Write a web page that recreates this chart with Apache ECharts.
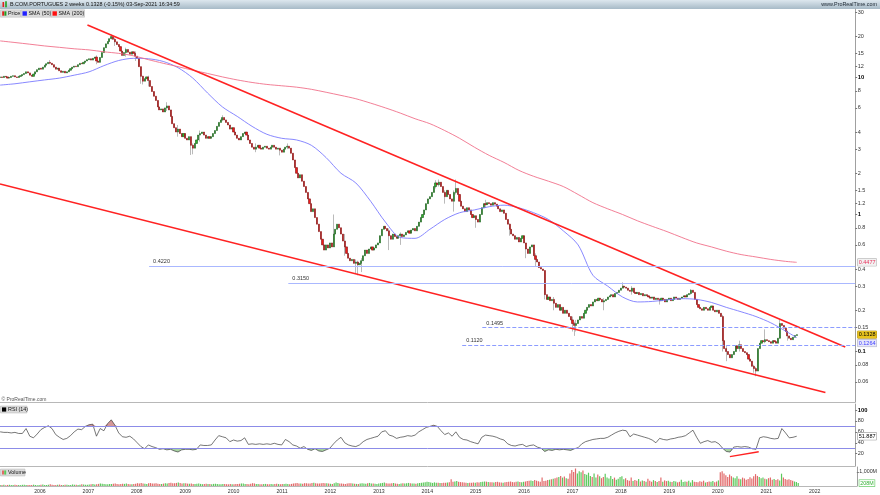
<!DOCTYPE html>
<html><head><meta charset="utf-8">
<script src="https://cdn.jsdelivr.net/npm/echarts@6/dist/echarts.min.js"></script>
<style>html,body{margin:0;padding:0;background:#fff}#c{width:880px;height:495px}</style>
</head><body><div id="c"></div>
<script>
// ---------------- DATA ----------------
const FIRST_CANDLE = Date.UTC(2005, 2, 7);   // 2-week candles
const STEP_DAYS = 14;
const firstOpen = 10.0;
const closes = [
 10.1,10.0,10.2,10.1,9.9,10.0,10.2,10.3,10.1,10.0,10.2,10.3,10.5,10.7,11.0,10.8,10.4,
 10.2,10.6,11.0,11.4,11.7,11.5,11.9,12.3,12.6,12.9,12.7,
 12.4,11.9,11.5,11.7,11.2,10.9,11.1,10.8,11.0,11.3,
 11.6,11.9,12.1,12.0,12.4,12.7,12.6,12.9,13.2,13.5,13.7,13.4,13.8,14.1,13.2,12.9,14.0,
 15.2,16.5,17.6,18.3,19.2,19.9,19.0,18.2,
 17.4,16.8,15.6,14.5,15.2,16.0,15.3,14.8,15.4,15.0,14.3,13.8,
 12.0,10.2,9.4,9.8,10.1,9.5,
 8.6,7.9,7.3,6.8,6.1,5.8,5.9,5.6,
 6.0,6.2,5.8,5.2,4.6,4.3,4.0,4.2,3.9,
 3.7,3.9,3.6,3.5,3.7,3.2,3.05,3.3,
 3.5,3.8,3.9,4.0,3.8,3.6,3.7,3.6,3.7,3.9,
 4.1,4.4,4.7,4.9,5.1,4.9,
 4.7,4.5,4.2,4.3,4.0,3.8,3.6,3.5,3.7,3.9,4.0,3.8,3.5,3.3,3.1,3.0,
 3.1,3.2,3.05,3.0,3.1,3.15,3.05,3.0,3.1,3.2,3.1,3.0,3.05,2.95,2.85,3.0,3.1,3.15,3.05,
 2.8,2.5,2.2,2.0,1.85,1.95,1.75,1.6,1.45,1.3,1.2,1.05,1.1,0.95,0.85,0.75,0.66,0.6,0.55,0.6,0.57,
 0.62,0.58,0.72,0.78,0.85,0.80,
 0.72,0.64,0.58,0.52,0.48,
 0.46,0.47,0.44,0.45,0.43,0.44,0.46,
 0.50,0.55,0.52,0.56,
 0.58,0.55,0.57,0.60,0.62,
 0.70,0.78,0.82,0.79,
 0.76,0.70,0.66,0.72,0.69,
 0.67,0.70,0.72,0.69,0.71,0.74,
 0.76,0.73,0.77,0.79,0.76,
 0.82,0.88,0.95,1.0,1.08,
 1.2,1.3,1.35,1.45,
 1.6,1.7,1.65,1.72,1.6,
 1.45,1.35,1.5,1.4,1.3,
 1.25,1.45,1.55,1.4,
 1.25,1.15,1.1,1.05,1.12,1.08,
 1.0,0.95,0.98,0.92,0.88,
 1.0,1.12,1.2,1.18,1.22,
 1.2,1.17,1.22,1.19,1.15,
 1.1,1.05,1.08,1.02,
 0.92,0.85,0.78,
 0.72,0.70,0.66,0.68,0.63,0.67,0.70,0.62,
 0.56,0.52,0.58,0.60,0.50,0.47,0.45,
 0.41,0.40,0.39,
 0.26,0.24,0.25,0.235,0.24,0.225,
 0.21,0.22,0.20,0.21,0.19,0.20,0.19,
 0.18,0.17,0.16,0.155,0.16,
 0.17,0.18,0.175,0.19,
 0.20,0.21,0.22,0.215,
 0.23,0.24,0.235,0.245,0.24,
 0.23,0.235,0.24,
 0.25,0.255,0.26,0.25,0.265,0.27,
 0.28,0.29,0.30,0.295,0.29,
 0.28,0.275,0.29,0.27,0.265,0.27,
 0.26,0.265,0.255,0.26,0.255,
 0.25,0.245,0.25,0.24,0.245,
 0.24,0.235,0.245,0.24,0.23,0.24,
 0.245,0.235,0.24,0.25,0.245,0.24,0.245,
 0.25,0.255,0.25,0.26,0.265,
 0.28,0.27,
 0.24,0.22,0.21,0.205,0.20,0.21,
 0.205,0.20,0.21,0.215,0.20,0.195,0.20,
 0.19,0.18,
 0.12,0.105,0.10,0.095,
 0.09,0.095,0.10,
 0.11,0.105,0.112,
 0.105,0.10,0.098,0.095,
 0.088,0.085,0.078,0.075,
 0.072,0.105,
 0.115,0.12,0.118,0.122,
 0.12,0.118,0.115,0.12,0.118,0.115,
 0.125,0.16,0.155,0.148,
 0.14,0.13,0.125,0.122,
 0.127,0.131,0.1328
];
// notable wicks: [candle index, high, low]
const wicks = [
 [27,13.4,12.5],[52,14.5,12.5],[60,20.6,19.0],[62,19.5,17.0],[68,16.5,14.2],[73,15.5,13.2],
 [76,11.5,9.0],[77,10.3,8.9],[80,10.3,8.6],[90,6.6,5.7],[96,4.5,3.7],[103,3.7,2.72],[104,3.3,2.75],
 [108,4.1,3.4],[120,5.3,4.8],[138,3.3,2.85],[151,3.05,2.7],[155,3.3,3.0],[180,1.0,0.6],[186,0.72,0.5],
 [192,0.47,0.37],[193,0.46,0.36],[195,0.48,0.38],[210,0.79,0.55],[216,0.74,0.6],[235,1.78,1.55],
 [237,1.8,1.6],[240,1.5,1.2],[245,1.5,1.05],[246,1.8,1.4],[257,0.98,0.8],[262,1.28,1.12],[275,0.86,0.7],
 [284,0.62,0.48],[289,0.52,0.42],[294,0.39,0.24],[299,0.25,0.2],[309,0.18,0.14],[310,0.165,0.13],
 [311,0.17,0.14],[326,0.245,0.2],[336,0.32,0.29],[341,0.3,0.26],[356,0.245,0.22],[373,0.285,0.26],
 [390,0.185,0.1],[392,0.11,0.085],[399,0.12,0.1],[407,0.08,0.07],[408,0.077,0.066],[413,0.145,0.115],
 [421,0.172,0.124],[425,0.142,0.12]
];
// volume, millions
const volumes = [
 80,70,90,60,75,85,70,65,95,80,70,60,85,90,75,70,65,80,95,70,60,75,
 90,110,80,70,95,120,85,75,70,90,100,80,75,85,95,70,80,110,90,85,75,95,120,100,90,85,
 100,120,140,110,130,150,170,160,140,120,130,150,140,160,180,150,130,140,160,150,170,140,130,120,150,160,
 200,180,220,170,160,150,190,210,180,170,200,160,150,140,170,190,180,210,230,200,190,220,250,210,180,200,
 190,170,160,180,150,140,160,170,150,130,140,160,150,140,130,150,160,140,130,120,140,150,130,120,140,130,
 130,150,140,160,180,170,150,140,130,160,200,180,150,140,130,120,140,150,130,120,140,130,150,160,140,130,
 140,150,160,140,130,150,170,200,220,180,170,160,200,190,170,180,220,240,200,180,170,190,210,200,190,180,
 160,150,200,250,220,180,170,160,150,170,190,200,180,160,150,140,170,190,180,160,200,220,180,170,160,150,
 180,200,220,250,200,180,170,190,210,180,160,150,170,190,180,200,220,190,180,170,160,200,210,230,250,270,
 300,280,250,220,260,240,230,210,220,240,230,250,260,480,300,320,350,300,280,260,250,230,220,240,230,250,
 240,260,250,280,300,320,310,280,270,260,250,280,300,260,250,240,260,280,300,320,280,260,300,320,280,260,
 300,320,350,380,400,350,420,380,340,300,600,350,380,420,450,480,520,560,600,640,720,600,680,560,520,900,
 1150,1000,1250,900,1050,980,1100,850,800,950,720,650,900,600,820,700,560,650,880,600,540,720,500,600,450,520,
 650,700,480,560,420,380,600,350,420,380,500,320,400,360,300,520,380,300,420,360,280,350,600,300,400,350,
 380,300,280,350,320,260,300,450,280,320,300,380,250,420,300,280,260,340,300,380,250,280,320,300,350,260,
 320,400,980,1050,900,760,650,820,700,600,560,700,520,480,600,540,450,500,620,540,700,850,720,640,560,600,
 520,480,560,600,450,500,420,480,400,880,600,500,450,480,420,380,320,280,208
];
// moving averages, read every 8 candles (last point = last candle)
const SMA_STEP = 8;
const sma50 = [8.8,9.0,9.3,9.6,9.9,10.4,11.0,12.2,13.3,13.8,13.7,13.1,11.8,9.9,7.7,6.1,5.2,4.4,3.85,3.6,
 3.5,3.2,2.6,2.0,1.7,1.25,0.88,0.68,0.67,0.78,0.92,1.03,1.08,1.14,1.17,1.12,1.03,0.92,0.76,0.6,
 0.36,0.3,0.25,0.23,0.232,0.238,0.243,0.24,0.228,0.21,0.195,0.18,0.162,0.141,0.1264];
const sma200 = [18.5,18.0,17.5,17.0,16.6,16.2,15.9,15.4,15.0,14.4,13.5,12.7,12.0,11.3,10.7,10.1,9.6,9.2,8.9,8.7,
 8.5,8.2,7.8,7.4,7.0,6.5,6.0,5.5,5.0,4.6,4.1,3.6,3.1,2.7,2.4,2.1,1.9,1.75,1.6,1.4,
 1.22,1.1,1.0,0.9,0.82,0.75,0.68,0.62,0.58,0.54,0.51,0.49,0.47,0.455,0.4477];
// RSI(14), read every 2 candles
const RSI_STEP = 2;
const rsi = [
 60,59,59,58,59,57,57,66,52,49, 56,64,68,71,66,55,50,46,48,53, 60,65,64,70,73,74,52,66,62,75,
 82,72,58,51,50,52,47,40,33,29, 36,33,31,28,29,27,28,25,23,27, 28,28,27,28,36,35,35,36,45,53,
 51,49,42,45,43,44,49,37,38,37, 38,37,38,37,39,37,36,46,42,36, 34,30,33,28,26,29,25,24,27,30,
 38,45,50,40,36,34,33,36,42,46, 48,50,52,60,62,54,52,48,50,51, 53,52,54,60,64,68,70,72,70,62,
 55,58,52,60,50,46,45,42,40,38, 50,54,53,52,50,47,45,38,35,34, 36,37,33,35,36,32,30,24,27,26,
 28,27,28,27,26,29,31,38,42,44, 46,47,48,48,50,54,58,61,63,62, 51,56,54,52,50,48,45,40,48,46,
 45,47,48,50,51,53,58,63,50,39, 42,44,41,42,38,30,24,23,32,33, 32,33,32,29,28,49,51,50,48,47,
 48,66,58,49,50,51.887
];
const priceTicks = [30,20,15,12,10,8,6,4,3,2,1.5,1.2,1,0.8,0.6,0.4,0.3,0.2,0.15,0.1,0.08,0.06];
const boldPriceTicks = [10,1,0.1];
const rsiTicks = [20,40,60,80,100];
const volTicks = [1000];
const yearTicks = [2006,2007,2008,2009,2010,2011,2012,2013,2014,2015,2016,2017,2018,2019,2020,2021,2022];
const levels = [
 {value:0.4220, from:'2008-04-06', dashed:false},
 {value:0.3150, from:'2011-02-22', dashed:false},
 {value:0.1495, from:'2015-02-27', dashed:true},
 {value:0.1120, from:'2014-09-28', dashed:true}
];
const upperTrend = [['2006-12-27', 24.2], ['2022-09-01', 0.108]];
const lowerTrend = [['2005-03-06', 1.67], ['2022-04-04', 0.0502]];
const rsiDivergence = [['2020-04-12', 14.5], ['2020-11-16', 23.6]];

// ---------------- BUILD ----------------
if (closes.length !== volumes.length) throw new Error('len mismatch ' + closes.length + ' ' + volumes.length);
const FONT = 'Liberation Sans';
const DAY = 86400000;
const N = closes.length;
const dates = closes.map((_, i) => FIRST_CANDLE + i * STEP_DAYS * DAY);
const X_MIN = Date.UTC(2005, 2, 6), X_MAX = Date.UTC(2022, 10, 15);
const P_MIN = 0.0428, P_MAX = 31.62;
const L_MIN = Math.log10(P_MIN), L_MAX = Math.log10(P_MAX);

const opens = closes.map((c, i) => i ? closes[i - 1] : firstOpen);
const ohlc = closes.map((c, i) => [dates[i], opens[i], c, Math.min(opens[i], c), Math.max(opens[i], c)]);
const full = ohlc.map(r => r.slice());
wicks.forEach(([i, h, l]) => { full[i][4] = Math.max(full[i][4], h); full[i][3] = Math.min(full[i][3], l); });

const smaPts = arr => arr.map((v, k) => [dates[Math.min(k * SMA_STEP, N - 1)], v]);
const rsiPts = rsi.map((v, k) => [dates[Math.min(k * RSI_STEP, N - 1)], v]);
const volData = volumes.map((v, i) => ({value: [dates[i], v], itemStyle: {color: closes[i] >= opens[i] ? '#5cc85c' : '#e26a6a'}}));

const lastClose = closes[N - 1], last50 = sma50[sma50.length - 1], last200 = sma200[sma200.length - 1];
const lastRsi = rsi[rsi.length - 1], lastVol = volumes[N - 1];
const priceTags = [{v: last200, c: 't200'}, {v: lastClose, c: 'tpx'}];

const tpl = d => typeof d === 'string' ? Date.parse(d) : d;
const lineData = arr => arr.map(p => [tpl(p[0]), p[1]]);

function priceLabel(val) {
  for (const t of priceTags) if (Math.abs(Math.log10(t.v) - val) < 1e-6) return '{' + t.c + '|' + t.v.toFixed(4) + '}';
  let best = priceTicks[0];
  priceTicks.forEach(p => { if (Math.abs(Math.log10(p) - val) < Math.abs(Math.log10(best) - val)) best = p; });
  return boldPriceTicks.includes(best) ? '{b|' + best + '}' : '{n|' + best + '}';
}

const chart = echarts.init(document.getElementById('c'), null, {renderer: 'canvas'});
const gray = '#a0a0a0';
const lblBase = {fontFamily: FONT, fontSize: 5.5, color: '#333', hideOverlap: false};
const tagStyle = (color, bg, border) => ({fontSize: 5.5, color: color, backgroundColor: bg, borderColor: border, borderWidth: 0.5, padding: [0.5, 1], fontFamily: FONT});
chart.setOption({
  animation: false,
  backgroundColor: '#fff',
  textStyle: {fontFamily: FONT},
  grid: [
    {left: 0, right: 20, top: 9, height: 393},
    {left: 0, right: 20, top: 404, height: 62},
    {left: 0, right: 20, top: 467, height: 19}
  ],
  xAxis: [0, 1, 2].map(g => ({
    type: 'value', gridIndex: g, min: X_MIN, max: X_MAX, scale: true,
    axisLine: {show: true, onZero: false, lineStyle: {color: '#b8b8b8', width: 1}},
    axisTick: {show: false}, splitLine: {show: false},
    axisLabel: g === 2 ? {
      show: true, customValues: yearTicks.map(y => Date.UTC(y, 0, 1)),
      formatter: v => String(new Date(v).getUTCFullYear()), fontFamily: FONT, fontSize: 5.2, color: '#333', margin: 3
    } : {show: false}
  })),
  yAxis: [
    {type: 'log', logBase: 10, gridIndex: 0, min: P_MIN, max: P_MAX, position: 'right',
     axisLine: {show: true, lineStyle: {color: gray}}, axisTick: {show: false}, axisLabel: {show: false}, splitLine: {show: false}},
    {type: 'value', gridIndex: 0, min: L_MIN, max: L_MAX, position: 'right',
     axisLine: {show: false}, splitLine: {show: false},
     axisTick: {show: true, length: 2, customValues: priceTicks.map(Math.log10), lineStyle: {color: '#777'}},
     axisLabel: {show: true, margin: 2.5, customValues: priceTicks.map(Math.log10).concat(priceTags.map(t => Math.log10(t.v))),
       formatter: priceLabel, ...lblBase,
       rich: {
         n: {fontSize: 5.5, color: '#333', fontFamily: FONT},
         b: {fontSize: 5.8, color: '#000', fontWeight: 'bold', fontFamily: FONT},
         t200: tagStyle('#e8305a', '#f2f2f2', '#aaa'),
         tpx: tagStyle('#000', '#e8c21c', '#b09010')
       }}},
    {type: 'value', gridIndex: 0, min: L_MIN, max: L_MAX, position: 'right',
     axisLine: {show: false}, splitLine: {show: false}, axisTick: {show: false},
     axisLabel: {show: true, margin: 2.5, customValues: [Math.log10(last50)], ...lblBase,
       formatter: () => '{sp|}\n{t50|' + last50.toFixed(4) + '}',
       rich: {sp: {fontSize: 5, lineHeight: 11, fontFamily: FONT}, t50: tagStyle('#4040ff', '#e6e6fa', '#aab')}}},
    {type: 'value', gridIndex: 1, min: -2.6, max: 111, position: 'right',
     axisLine: {show: true, lineStyle: {color: gray}}, splitLine: {show: false},
     axisTick: {show: true, length: 2, customValues: rsiTicks, lineStyle: {color: '#777'}},
     axisLabel: {show: true, margin: 2.5, customValues: rsiTicks.concat([lastRsi]), ...lblBase,
       formatter: v => Math.abs(v - lastRsi) < 1e-6 ? '{t|' + lastRsi.toFixed(3) + '}' : (v === 100 ? '{b|100}' : '{n|' + v + '}'),
       rich: {
         n: {fontSize: 5.5, color: '#333', fontFamily: FONT},
         b: {fontSize: 5.8, color: '#000', fontWeight: 'bold', fontFamily: FONT},
         t: tagStyle('#000', '#fff', '#888')
       }}},
    {type: 'value', gridIndex: 2, min: 0, max: 1357, position: 'right',
     axisLine: {show: true, lineStyle: {color: gray}}, splitLine: {show: false},
     axisTick: {show: true, length: 2, customValues: volTicks, lineStyle: {color: '#777'}},
     axisLabel: {show: true, margin: 2.5, customValues: volTicks.concat([lastVol]), ...lblBase,
       formatter: v => v === lastVol ? '{t|' + lastVol + 'M}' : '{n|' + v.toLocaleString('en-US') + 'M}',
       rich: {
         n: {fontSize: 5.3, color: '#333', fontFamily: FONT},
         t: {fontSize: 5.3, color: '#30b030', backgroundColor: '#fff', borderColor: '#5cc85c', borderWidth: 0.6, padding: [0.5, 1], fontFamily: FONT}
       }}}
  ],
  series: [
    {name: 'wick', type: 'candlestick', xAxisIndex: 0, yAxisIndex: 0, data: full, barWidth: 0.4, silent: true,
     itemStyle: {color: '#9c9c9c', color0: '#9c9c9c', borderColor: '#9c9c9c', borderColor0: '#9c9c9c', borderWidth: 0.7}},
    {name: 'Price', type: 'candlestick', xAxisIndex: 0, yAxisIndex: 0, data: ohlc, barWidth: 1.6, silent: true,
     itemStyle: {color: '#2db42d', color0: '#f01a1a', borderColor: '#1c5a1c', borderColor0: '#801010', borderWidth: 0.6},
     markLine: {silent: true, symbol: ['none', 'none'], animation: false,
       label: {show: true, position: 'insideStartTop', formatter: '{b}', fontFamily: FONT, fontSize: 5.5, color: '#333', distance: [4, 1.5]},
       data: levels.map(l => [
         {name: l.value.toFixed(4), coord: [Date.parse(l.from), l.value],
          lineStyle: {color: l.dashed ? '#8c9cff' : '#aab8ff', width: 1, type: l.dashed ? 'dashed' : 'solid'}},
         {coord: [X_MAX, l.value]}
       ])}},
    {name: 'SMA (50)', type: 'line', xAxisIndex: 0, yAxisIndex: 0, data: smaPts(sma50), smooth: 0.3, symbol: 'none',
     lineStyle: {color: '#7a7aff', width: 0.9}},
    {name: 'SMA (200)', type: 'line', xAxisIndex: 0, yAxisIndex: 0, data: smaPts(sma200), smooth: 0.3, symbol: 'none',
     lineStyle: {color: '#f0708a', width: 0.9}},
    {name: 'upper', type: 'line', xAxisIndex: 0, yAxisIndex: 0, data: lineData(upperTrend), symbol: 'none',
     lineStyle: {color: '#ff2222', width: 1.6}},
    {name: 'lower', type: 'line', xAxisIndex: 0, yAxisIndex: 0, data: lineData(lowerTrend), symbol: 'none',
     lineStyle: {color: '#ff2222', width: 1.6}},
    {name: 'rsiOB', type: 'line', xAxisIndex: 1, yAxisIndex: 3, data: rsiPts.map(p => [p[0], Math.max(p[1], 70)]), symbol: 'none',
     lineStyle: {width: 0, opacity: 0}, areaStyle: {origin: 70, color: '#d49898', opacity: 1}},
    {name: 'rsiOS', type: 'line', xAxisIndex: 1, yAxisIndex: 3, data: rsiPts.map(p => [p[0], Math.min(p[1], 30)]), symbol: 'none',
     lineStyle: {width: 0, opacity: 0}, areaStyle: {origin: 30, color: '#a9d3a3', opacity: 1}},
    {name: 'RSI (14)', type: 'line', xAxisIndex: 1, yAxisIndex: 3, data: rsiPts, symbol: 'none',
     lineStyle: {color: '#3c3c3c', width: 0.7},
     markLine: {silent: true, symbol: ['none', 'none'], label: {show: false},
       lineStyle: {color: '#8c8ce8', width: 1, type: 'solid'}, data: [{yAxis: 70}, {yAxis: 30}]}},
    {name: 'div', type: 'line', xAxisIndex: 1, yAxisIndex: 3, data: lineData(rsiDivergence), symbol: 'none',
     lineStyle: {color: '#ff2222', width: 1.4}},
    {name: 'Volume', type: 'bar', xAxisIndex: 2, yAxisIndex: 4, data: volData, barWidth: 1.2, silent: true}
  ],
  graphic: [
    {type: 'rect', shape: {x: 0, y: 0, width: 880, height: 9}, silent: true,
     style: {fill: new echarts.graphic.LinearGradient(0, 0, 0, 1, [{offset: 0, color: '#dde7ee'}, {offset: 1, color: '#a7bac7'}])}},
    {type: 'rect', shape: {x: 2.5, y: 2, width: 1.6, height: 5}, style: {fill: '#e02020'}},
    {type: 'rect', shape: {x: 5.2, y: 1.2, width: 1.6, height: 6}, style: {fill: '#20a020'}},
    {type: 'text', x: 10, y: 4.7, style: {text: 'B.COM.PORTUGUES 2 weeks 0.1328 (-0.15%) 03-Sep-2021 16:34:59', fill: '#111', font: '5.4px "Liberation Sans"', verticalAlign: 'middle'}},
    {type: 'text', x: 877, y: 4.7, style: {text: 'www.ProRealTime.com', fill: '#1a2530', font: '5.4px "Liberation Sans"', align: 'right', verticalAlign: 'middle'}},
    {type: 'rect', shape: {x: 0.5, y: 9.8, width: 20, height: 7.4}, style: {fill: '#dcdcdc', stroke: '#b4b4b4', lineWidth: 0.5}},
    {type: 'rect', shape: {x: 2.2, y: 11.3, width: 2, height: 4.4}, style: {fill: '#e02020'}},
    {type: 'rect', shape: {x: 4.4, y: 11.3, width: 2, height: 4.4}, style: {fill: '#20a020'}},
    {type: 'text', x: 8, y: 13.6, style: {text: 'Price', fill: '#111', font: '5.4px "Liberation Sans"', verticalAlign: 'middle'}},
    {type: 'rect', shape: {x: 21, y: 9.8, width: 29.5, height: 7.4}, style: {fill: '#dcdcdc', stroke: '#b4b4b4', lineWidth: 0.5}},
    {type: 'rect', shape: {x: 22.5, y: 11.3, width: 4.4, height: 4.4}, style: {fill: '#2020ff'}},
    {type: 'text', x: 28.5, y: 13.6, style: {text: 'SMA (50)', fill: '#111', font: '5.4px "Liberation Sans"', verticalAlign: 'middle'}},
    {type: 'rect', shape: {x: 51, y: 9.8, width: 33.5, height: 7.4}, style: {fill: '#dcdcdc', stroke: '#b4b4b4', lineWidth: 0.5}},
    {type: 'rect', shape: {x: 52.5, y: 11.3, width: 4.4, height: 4.4}, style: {fill: '#ff1010'}},
    {type: 'text', x: 58.5, y: 13.6, style: {text: 'SMA (200)', fill: '#111', font: '5.4px "Liberation Sans"', verticalAlign: 'middle'}},
    {type: 'text', x: 1.5, y: 399.2, style: {text: '© ProRealTime.com', fill: '#555', font: '5px "Liberation Sans"', verticalAlign: 'middle'}},
    {type: 'rect', shape: {x: 0.5, y: 406, width: 26.5, height: 7}, style: {fill: '#dcdcdc', stroke: '#b4b4b4', lineWidth: 0.5}},
    {type: 'rect', shape: {x: 2, y: 407.4, width: 4.2, height: 4.2}, style: {fill: '#000'}},
    {type: 'text', x: 8, y: 409.6, style: {text: 'RSI (14)', fill: '#111', font: '5.4px "Liberation Sans"', verticalAlign: 'middle'}},
    {type: 'rect', shape: {x: 0.5, y: 469, width: 24.5, height: 7}, style: {fill: '#dcdcdc', stroke: '#b4b4b4', lineWidth: 0.5}},
    {type: 'rect', shape: {x: 2, y: 470.4, width: 2, height: 4.2}, style: {fill: '#e26a6a'}},
    {type: 'rect', shape: {x: 4.2, y: 470.4, width: 2, height: 4.2}, style: {fill: '#5cc85c'}},
    {type: 'text', x: 8, y: 472.6, style: {text: 'Volume', fill: '#111', font: '5.4px "Liberation Sans"', verticalAlign: 'middle'}}
  ]
});
</script>
</body></html>
